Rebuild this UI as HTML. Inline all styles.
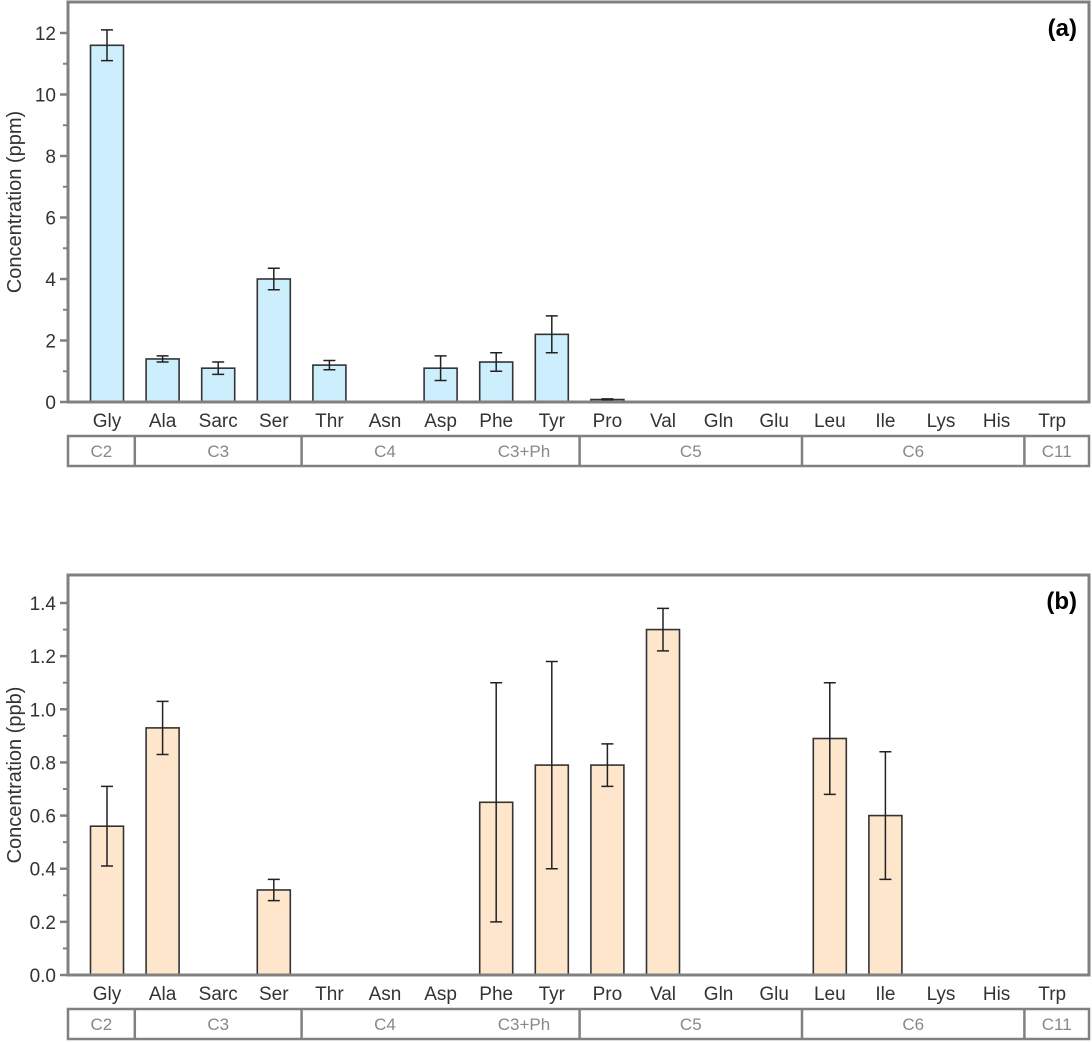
<!DOCTYPE html>
<html><head><meta charset="utf-8"><style>
html,body{margin:0;padding:0;background:#fff}
svg{display:block;font-family:"Liberation Sans",Arial,sans-serif}
</style></head><body>
<svg id="chart" width="1092" height="1042" viewBox="0 0 1092 1042" xmlns="http://www.w3.org/2000/svg"></svg>
<script>
const categories = ["Gly","Ala","Sarc","Ser","Thr","Asn","Asp","Phe","Tyr","Pro","Val","Gln","Glu","Leu","Ile","Lys","His","Trp"];
const valuesA = [11.6,1.4,1.1,4.0,1.2,0,1.1,1.3,2.2,0.08,0,0,0,0,0,0,0,0];
const errorsA = [0.5,0.1,0.2,0.35,0.15,0,0.4,0.3,0.6,0.02,0,0,0,0,0,0,0,0];
const valuesB = [0.56,0.93,0,0.32,0,0,0,0.65,0.79,0.79,1.30,0,0,0.89,0.60,0,0,0];
const errorsB = [0.15,0.1,0,0.04,0,0,0,0.45,0.39,0.08,0.08,0,0,0.21,0.24,0,0,0];
const ticksA = [0,2,4,6,8,10,12];
const ticksB = [0,0.2,0.4,0.6,0.8,1.0,1.2,1.4];
const groupNames = ["C2","C3","C4","C3+Ph","C5","C6","C11"];
const groupStart = [0,1,4,7,9,13,17];
const groupEnd = [0,3,6,8,12,16,17];

const svg = document.getElementById('chart');
const NS = "http://www.w3.org/2000/svg";
function mk(tag, attrs, parent){const e=document.createElementNS(NS,tag);for(const k in attrs)e.setAttribute(k,attrs[k]);(parent||svg).appendChild(e);return e;}
const L=68,R=1089;
const xc = i => 107 + i*55.6;
const xEdge = i => i<0 ? L : (i>=categories.length-1 ? R : (xc(i)+xc(i+1))/2);

function panel(opt){
  const g = mk('g',{});
  
  
  const y = v => opt.y0 - (v/opt.max)*(opt.y0-opt.yTop);
  opt.vals.forEach((v,i)=>{
    if(v<=0) return;
    const b = mk('rect',{x:xc(i)-16.5,y:y(v),width:33,height:opt.y0-y(v),fill:opt.fill,stroke:'#333','stroke-width':1.6},g);
    
    
    const e = opt.errs[i];
    if(e>0){
      const eb = mk('path',{d:`M${xc(i)},${y(v+e)}V${y(v-e)}M${xc(i)-6},${y(v+e)}H${xc(i)+6}M${xc(i)-6},${y(v-e)}H${xc(i)+6}`,stroke:'#222','stroke-width':1.5,fill:'none'},g);
      
      
    }
  });
  const fr = mk('rect',{x:L,y:opt.frameTop,width:R-L,height:opt.y0-opt.frameTop,fill:'none',stroke:'#808080','stroke-width':3},g);
  
  
  opt.ticks.forEach((t,k)=>{
    mk('line',{x1:L-8,x2:L,y1:y(t),y2:y(t),stroke:'#808080','stroke-width':2.5},g);
    if(k<opt.ticks.length-1){const m=(t+opt.ticks[k+1])/2; mk('line',{x1:L-5,x2:L,y1:y(m),y2:y(m),stroke:'#808080','stroke-width':2},g);}
    const tl = mk('text',{x:L-12,y:y(t)+7,'text-anchor':'end','font-size':19,fill:'#333'},g);
    tl.textContent = opt.fmt(t);
    
    
  });
  const yt = mk('text',{x:0,y:0,'text-anchor':'middle','font-size':20,fill:'#333',transform:`translate(21,${(opt.frameTop+opt.y0)/2}) rotate(-90)`},g);
  yt.textContent = opt.ytitle;
  
  
  const pl = mk('text',{x:1077,y:opt.frameTop+34,'text-anchor':'end','font-size':24,'font-weight':'bold',fill:'#000'},g);
  pl.textContent = opt.label;
  
  
  categories.forEach((c,i)=>{
    const t = mk('text',{x:xc(i),y:opt.y0+25,'text-anchor':'middle','font-size':19,fill:'#333'},g);
    t.textContent = c;
    
    
  });
  const gt = opt.y0+34, gb = opt.y0+64;
  const box = mk('rect',{x:L,y:gt,width:R-L,height:gb-gt,fill:'none',stroke:'#808080','stroke-width':2.5},g);
  
  
  groupNames.forEach((n,k)=>{
    const a = xEdge(groupStart[k]-1), b = xEdge(groupEnd[k]);
    if(groupStart[k]>0 && n!=="C3+Ph") mk('line',{x1:a,x2:a,y1:gt,y2:gb,stroke:'#808080','stroke-width':2.5},g);
    const t = mk('text',{x:(a+b)/2,y:gt+21,'text-anchor':'middle','font-size':17,fill:'#888'},g);
    t.textContent = n;
    
    
  });
}
panel({name:'panel-a',vals:valuesA,errs:errorsA,ticks:ticksA,max:12,y0:402,yTop:33,frameTop:2,fill:'#cdeefc',ytitle:'Concentration (ppm)',label:'(a)',fmt:t=>String(t)});
panel({name:'panel-b',vals:valuesB,errs:errorsB,ticks:ticksB,max:1.4,y0:975,yTop:603,frameTop:575,fill:'#fde6cc',ytitle:'Concentration (ppb)',label:'(b)',fmt:t=>t.toFixed(1)});
</script>
</body></html>
